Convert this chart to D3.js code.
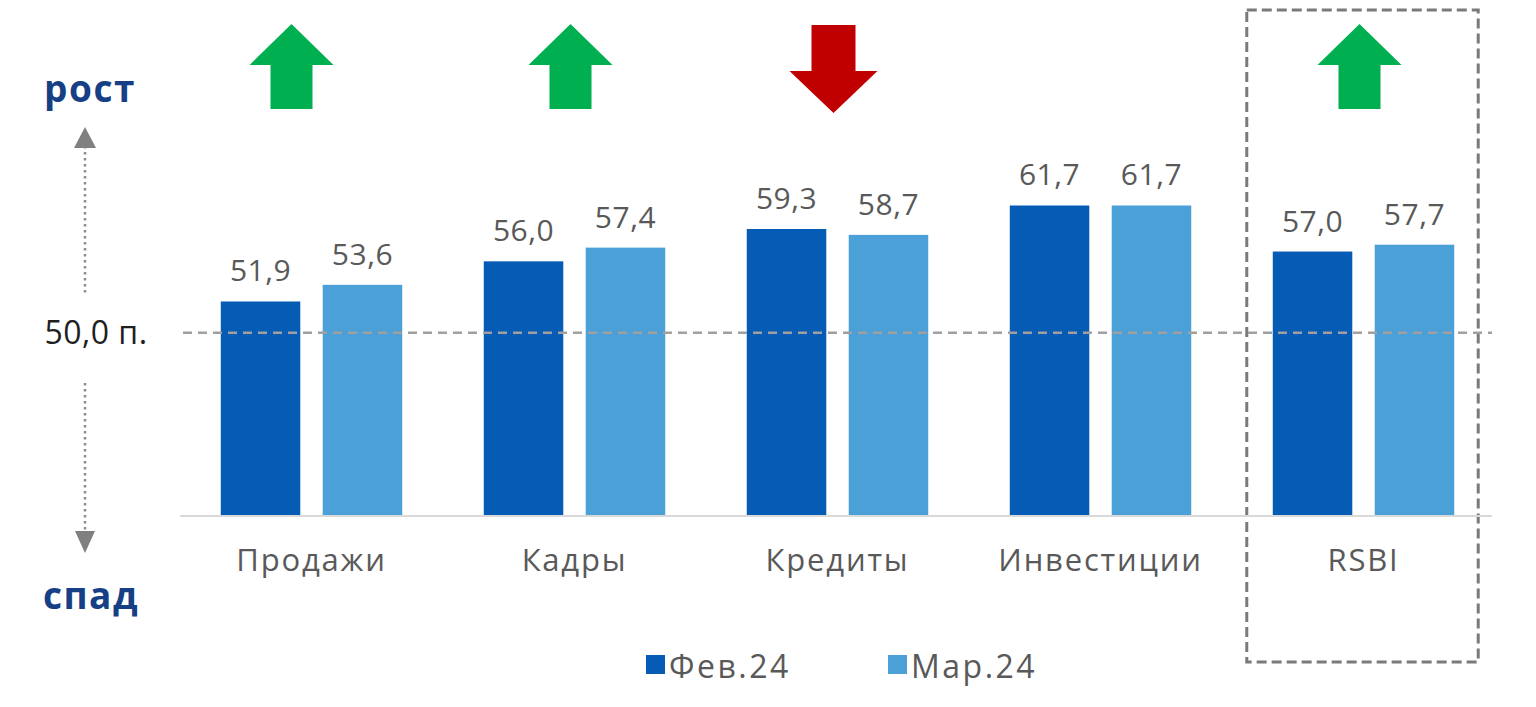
<!DOCTYPE html>
<html><head><meta charset="utf-8">
<script src="https://cdn.jsdelivr.net/npm/d3@7"></script>
<style>html,body{margin:0;padding:0;background:#fff;}svg{display:block;}</style>
</head><body>
<svg id="c" width="1536" height="707"></svg>
<script>
// ---- data ----
const categories = ["Продажи", "Кадры", "Кредиты", "Инвестиции", "RSBI"];
const seriesNames = ["Фев.24", "Мар.24"];
const febValues = [51.9, 56.0, 59.3, 61.7, 57.0];
const marValues = [53.6, 57.4, 58.7, 61.7, 57.7];
const trends = ["up", "up", "down", null, "up"];
const refLineLabel = "50,0 п.";
const refLineValue = 48.7;      // position of the dashed reference line
const highlightCategory = "RSBI";
const upLabel = "рост", downLabel = "спад";

// ---- setup ----
const svg = d3.select("#c");
const font = "'Open Sans', 'DejaVu Sans', sans-serif";
const colors = {"Фев.24": "#065cb5", "Мар.24": "#4ba0d7"};
const series = [febValues, marValues];

const x0 = d3.scaleBand().domain(categories).range([180, 1495]).paddingInner(0.31).paddingOuter(0.155);
const x1 = d3.scaleBand().domain(seriesNames).range([0, x0.bandwidth()]).paddingInner(0.22);
const y = d3.scaleLinear().domain([30, 70]).range([516, 124.2]);
const fmt = v => d3.format(".1f")(v).replace(".", ",");

const rows = categories.map((c, i) => ({cat: c, vals: seriesNames.map((s, j) => ({s, v: series[j][i]}))}));

// dashed box around RSBI
const bc = x0(highlightCategory) + x0.bandwidth() / 2;
const hw = x0.step() * 0.44;
svg.append("rect").attr("x", bc - hw - 1).attr("y", 10).attr("width", 2 * hw).attr("height", 652)
  .attr("fill", "none").attr("stroke", "#7a7a7a").attr("stroke-width", 3).attr("stroke-dasharray", "10,5");

// bars
const g = svg.append("g").selectAll("g").data(rows).join("g").attr("transform", d => `translate(${x0(d.cat)},0)`);
g.selectAll("rect").data(d => d.vals).join("rect")
  .attr("x", d => x1(d.s)).attr("width", x1.bandwidth())
  .attr("y", d => y(d.v)).attr("height", d => y(30) - y(d.v))
  .attr("fill", d => colors[d.s]);
g.selectAll("text").data(d => d.vals).join("text")
  .attr("x", d => x1(d.s) + x1.bandwidth() / 2).attr("y", d => y(d.v) - 20)
  .attr("text-anchor", "middle").attr("font-family", font).attr("font-size", 30)
  .attr("letter-spacing", "0.5px").attr("fill", "#595959").text(d => fmt(d.v));

// baseline axis
const xAxis = d3.axisBottom(x0).tickSize(0).tickPadding(33);
const ax = svg.append("g").attr("transform", `translate(0,${y(30)})`).call(xAxis);
ax.select(".domain").attr("stroke", "#d9d9d9").attr("stroke-width", 2).attr("d", `M180,0H1492`);
ax.selectAll("text").attr("font-family", font).attr("font-size", 31).attr("fill", "#595959")
  .attr("dy", "0.71em").attr("letter-spacing", "1.8px");

// reference dashed line
svg.append("line").attr("x1", 183).attr("x2", 1492).attr("y1", y(refLineValue)).attr("y2", y(refLineValue))
  .attr("stroke", "#a0a0a0").attr("stroke-width", 2.5).attr("stroke-dasharray", "9,6");
svg.append("text").attr("x", 96).attr("y", y(refLineValue) + 11).attr("text-anchor", "middle")
  .attr("font-family", font).attr("font-size", 32).attr("letter-spacing", "0.5px").attr("fill", "#1f1f1f").text(refLineLabel);

// left indicator arrows
const ax0 = 85;
const dot = {stroke: "#8c8c8c", "stroke-width": 2.5, "stroke-dasharray": "2.5,3.5"};
const l1 = svg.append("line").attr("x1", ax0).attr("x2", ax0).attr("y1", 146).attr("y2", 296);
const l2 = svg.append("line").attr("x1", ax0).attr("x2", ax0).attr("y1", 383).attr("y2", 532);
for (const l of [l1, l2]) for (const k in dot) l.attr(k, dot[k]);
svg.append("path").attr("d", `M${ax0},127L${ax0 + 11},148L${ax0 - 11},148Z`).attr("fill", "#808080");
svg.append("path").attr("d", `M${ax0},553L${ax0 + 10},531L${ax0 - 10},531Z`).attr("fill", "#808080");
svg.append("text").attr("x", 90).attr("y", 102).attr("text-anchor", "middle").attr("font-family", font)
  .attr("font-weight", 700).attr("font-size", 37).attr("letter-spacing", "1.5px").attr("fill", "#163f86").text(upLabel);
svg.append("text").attr("x", 91).attr("y", 609).attr("text-anchor", "middle").attr("font-family", font)
  .attr("font-weight", 700).attr("font-size", 37).attr("letter-spacing", "1.5px").attr("fill", "#163f86").text(downLabel);

// trend arrows
const upPath = "M0,-42L42,-1L21,-1L21,43L-21,43L-21,-1L-42,-1Z";
const downPath = "M0,46L44,4L22,4L22,-42L-22,-42L-22,4L-44,4Z";
svg.append("g").selectAll("path").data(categories.map((c, i) => ({c, t: trends[i]})).filter(d => d.t))
  .join("path")
  .attr("transform", d => `translate(${x0(d.c) + x0.bandwidth() / 2 - (d.c === categories[0] ? 20 : 4)},${d.t === "up" ? 66 : 67})`)
  .attr("d", d => d.t === "up" ? upPath : downPath)
  .attr("fill", d => d.t === "up" ? "#00b050" : "#c00000");

// legend
const leg = svg.append("g").selectAll("g").data(seriesNames).join("g")
  .attr("transform", (d, i) => `translate(${646 + i * 242},655)`);
leg.append("rect").attr("width", 19).attr("height", 19).attr("fill", d => colors[d]);
leg.append("text").attr("x", 23).attr("y", 23).attr("font-family", font).attr("font-size", 32)
  .attr("letter-spacing", "2.5px").attr("fill", "#595959").text(d => d);
</script>
</body></html>
